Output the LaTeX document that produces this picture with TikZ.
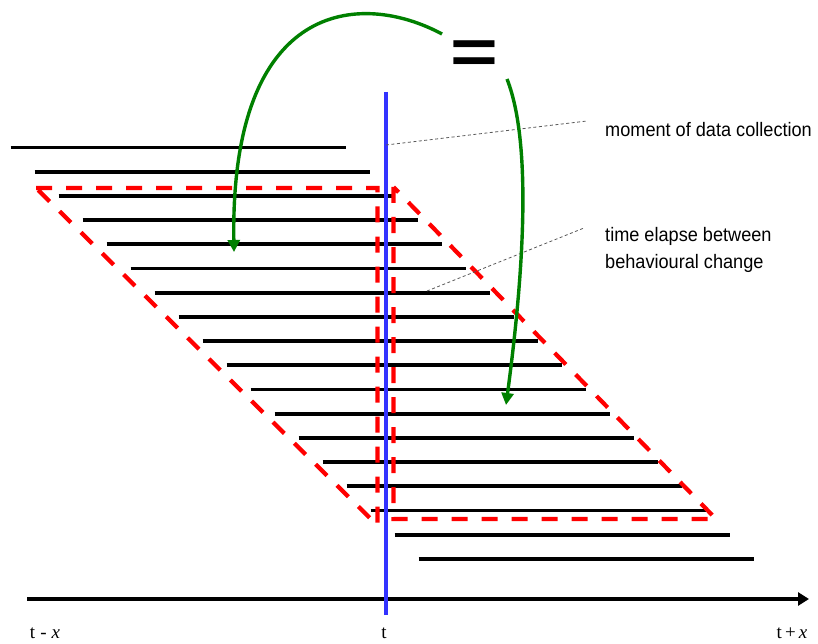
\documentclass[tikz,border=0pt]{standalone}
\usepackage{fontspec}
\setmainfont{Liberation Serif}
\newfontfamily\labelfont{Liberation Sans}
\usetikzlibrary{arrows.meta}
\definecolor{myblue}{RGB}{51,51,255}
\definecolor{mygreen}{RGB}{0,128,0}
\definecolor{myred}{RGB}{255,0,0}
\begin{document}
\begin{tikzpicture}[x=1pt,y=-1pt,
  bar/.style={line width=3.8pt},
  win/.style={myred, line width=4.2pt, dash pattern=on 16pt off 14pt, line join=miter},
  curvearrow/.style={mygreen, line width=3.4pt, -{Triangle[length=12pt,width=12pt]}},
  leader/.style={gray!70!black, line width=0.8pt, dash pattern=on 3pt off 2.5pt},
  note/.style={font=\labelfont\fontsize{19.5}{26}\selectfont, anchor=base west, inner sep=0pt},
  tick/.style={font=\fontsize{19}{19}\selectfont, anchor=base, inner sep=0pt}]
\useasboundingbox (0,0) rectangle (818,644);
\fill[white] (0,0) rectangle (818,644);
% horizontal bars
\foreach \i in {0,...,17} {
  \draw[bar] ({10.7+24*\i},{147.5+24.2*\i}) -- ++(335,0);
}
% red dashed windows
\draw[win] (36,188) -- (377.5,188) -- (377.5,525.5) -- cycle;
\draw[win] (393.5,187) -- (393.5,519) -- (716,519) -- cycle;
% time axis
\coordinate (axL) at (27,599);
\coordinate (axR) at (809,599);
\draw[line width=4.2pt, -{Triangle[length=11pt,width=13pt]}] (axL) -- (axR);
% moment line
\coordinate (bT) at (386,92);
\coordinate (bB) at (386,615);
\draw[myblue, line width=3.4pt] (bT) -- (bB);
% labels
\node[tick] (tm) at (45,638) {t\hspace{5pt}-\hspace{5pt}\textit{x}};
\node[tick] (t0) at (384,638) {t};
\node[tick] (tp) at (792,638) {t\,+\,\textit{x}};
\node[note] (n1) at (605,137) {\scalebox{0.93}[1]{moment of data collection}};
\node[note] (n2a) at (605,241.5) {\scalebox{0.93}[1]{time elapse between}};
\node[note] (n2b) at (605,268) {\scalebox{0.93}[1]{behavioural change}};
% leaders
\coordinate (c1) at (386,145);
\coordinate (c1e) at (587,121);
\draw[leader] (c1) -- (c1e);
\coordinate (c2) at (427,291);
\coordinate (c2e) at (584,228);
\draw[leader] (c2) -- (c2e);
% equals
\node[inner sep=0pt, anchor=base, font=\labelfont\bfseries\fontsize{63}{63}\selectfont] (eq) at (474,73.8) {\scalebox{1.3}[1]{=}};
% green arrows
\coordinate (g1s) at (442,34);
\coordinate (g1e) at (234,252);
\draw[curvearrow] (g1s) .. controls (360,-10) and (230,0) .. (g1e);
\coordinate (g2s) at (507,79);
\coordinate (g2e) at (506,405);
\draw[curvearrow] (g2s) .. controls (535,150) and (520,300) .. (g2e);
\end{tikzpicture}
\end{document}
